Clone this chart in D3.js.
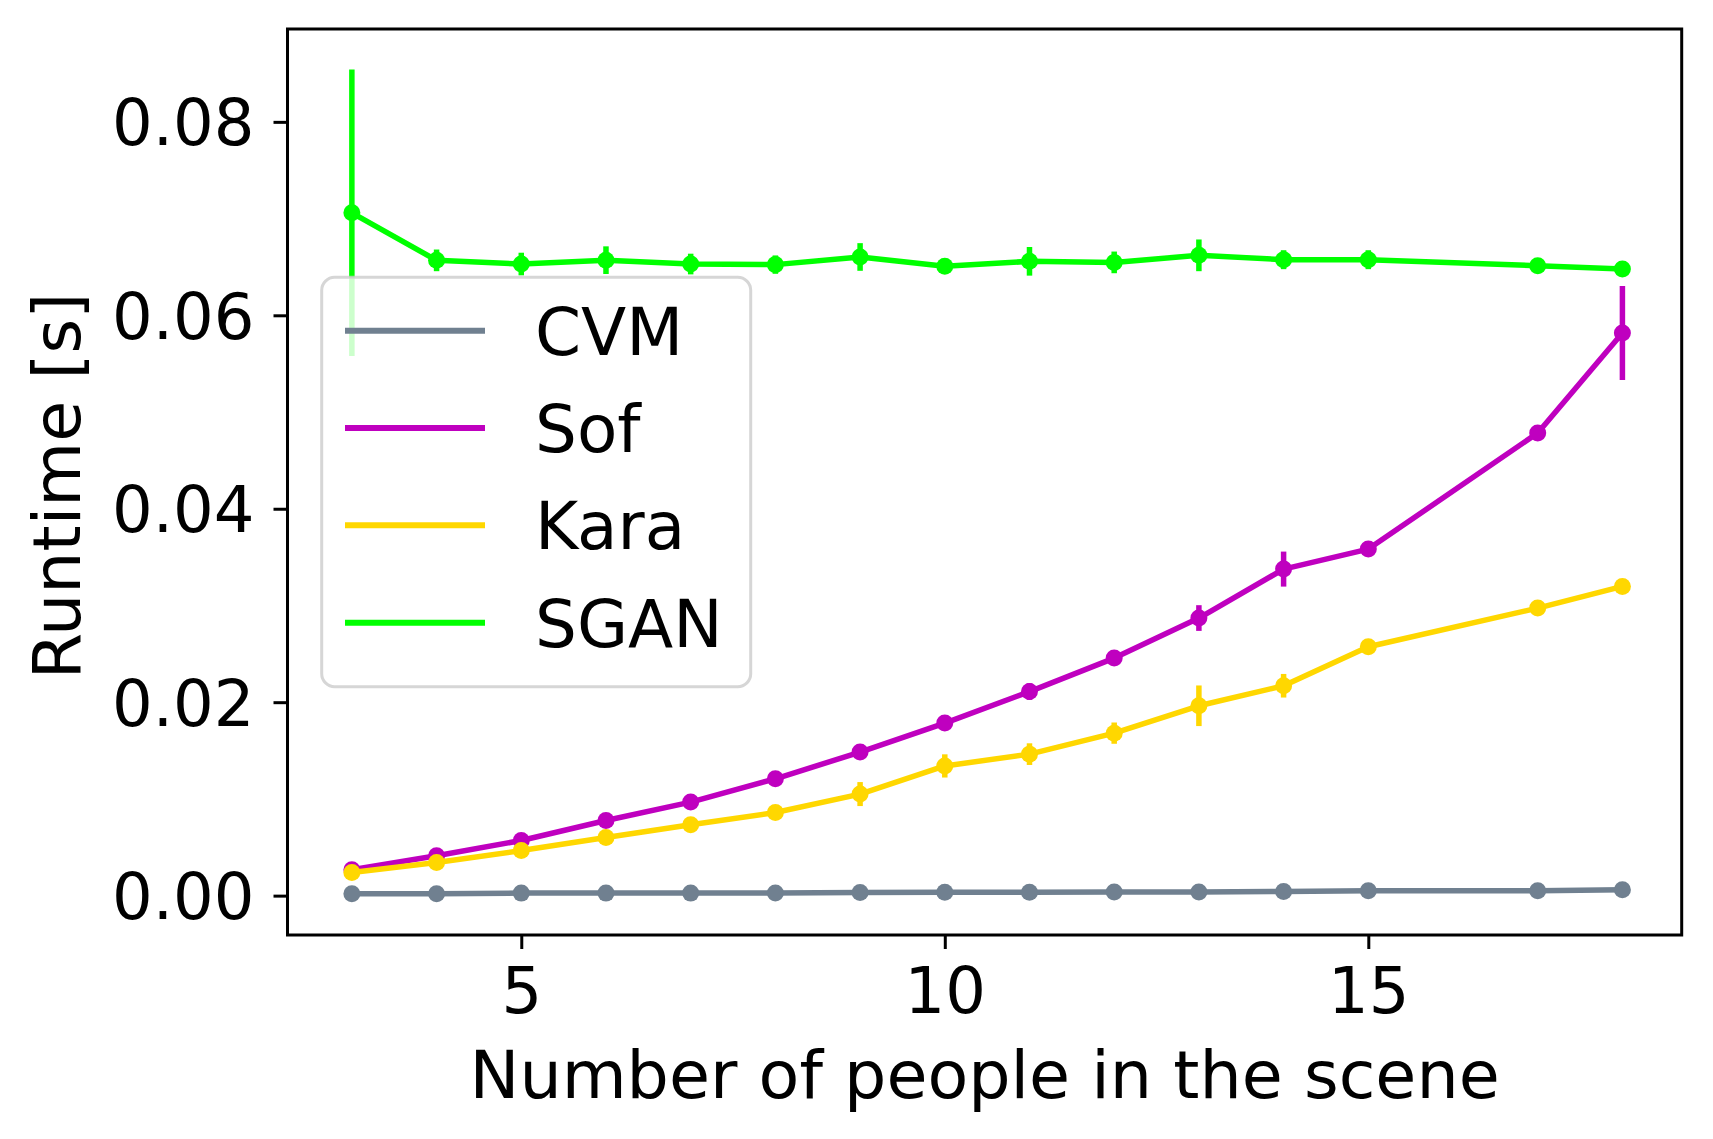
<!DOCTYPE html>
<html>
<head>
<meta charset="utf-8">
<script src="https://cdn.jsdelivr.net/npm/d3@7"></script>
<style>
  html, body { margin: 0; padding: 0; background: #fff; }
  svg { display: block; }
  text { font-family: "DejaVu Sans", sans-serif; fill: #000; }
</style>
</head>
<body>
<div id="chart"></div>
<script>
// ---- data ----
const people = [3, 4, 5, 6, 7, 8, 9, 10, 11, 12, 13, 14, 15, 17, 18];

const cvmMean = [0.00019, 0.00019, 0.00026, 0.00026, 0.00026, 0.00027, 0.00032, 0.00034, 0.00036, 0.00037, 0.00038, 0.00043, 0.00050, 0.00050, 0.00060];
const cvmErr  = [0.0001, 0.0001, 0.0001, 0.0001, 0.0001, 0.0001, 0.0001, 0.0001, 0.0001, 0.0001, 0.0001, 0.0001, 0.0001, 0.0001, 0.0001];

const sofMean = [0.00267, 0.00412, 0.00570, 0.00777, 0.00967, 0.01208, 0.01484, 0.01784, 0.02110, 0.02456, 0.02870, 0.03376, 0.03583, 0.04783, 0.05817];
const sofErr  = [0.0003, 0.0003, 0.0003, 0.0004, 0.0004, 0.0004, 0.0005, 0.0005, 0.00086, 0.0005, 0.00133, 0.00181, 0.0005, 0.0005, 0.00486];

const karaMean = [0.00239, 0.00342, 0.00466, 0.00601, 0.00732, 0.00859, 0.01050, 0.01341, 0.01463, 0.01680, 0.01963, 0.02170, 0.02573, 0.02973, 0.03197];
const karaErr  = [0.0003, 0.0003, 0.0003, 0.0004, 0.0004, 0.0004, 0.00124, 0.0012, 0.00112, 0.0011, 0.0021, 0.00122, 0.0005, 0.0005, 0.0004];

const sganMean = [0.07060, 0.06568, 0.06530, 0.06570, 0.06530, 0.06524, 0.06603, 0.06506, 0.06558, 0.06547, 0.06620, 0.06575, 0.06575, 0.06513, 0.06478];
const sganErr  = [0.0148, 0.00112, 0.00117, 0.00143, 0.00107, 0.00095, 0.00143, 0.0006, 0.00148, 0.00112, 0.00164, 0.00098, 0.00098, 0.0006, 0.0005];

const seriesNames  = ["CVM", "Sof", "Kara", "SGAN"];
const seriesColors = ["#708090", "#bf00bf", "#ffd700", "#00ff00"];
const seriesMeans  = [cvmMean, sofMean, karaMean, sganMean];
const seriesErrs   = [cvmErr, sofErr, karaErr, sganErr];

const xTicks = [5, 10, 15];
const yTicks = [0, 0.02, 0.04, 0.06, 0.08];
const xLabel = "Number of people in the scene";
const yLabel = "Runtime [s]";

// ---- layout ----
const W = 1713, H = 1139;
const L = 287.5, R = 1681.7, T = 29, B = 935;

const svg = d3.select("#chart").append("svg").attr("width", W).attr("height", H);

const x = d3.scaleLinear().domain([2.24, 18.70]).range([L, R]);
const y = d3.scaleLinear().domain([-0.00407, 0.0896]).range([B, T]);

// axes
const gx = svg.append("g").attr("transform", `translate(0,${B})`)
  .call(d3.axisBottom(x).tickValues(xTicks).tickFormat(d3.format("d")).tickSize(14).tickPadding(19));
const gy = svg.append("g").attr("transform", `translate(${L},0)`)
  .call(d3.axisLeft(y).tickValues(yTicks).tickFormat(d3.format(".2f")).tickSize(14).tickPadding(19));
[gx, gy].forEach(g => {
  g.select(".domain").remove();
  g.selectAll(".tick line").attr("stroke", "#000").attr("stroke-width", 3);
  g.selectAll(".tick text").attr("font-size", 64).attr("font-family", "DejaVu Sans").attr("fill", "#000");
});
gy.selectAll(".tick text").attr("dy", "0.36em");

// series
const line = d3.line().x(d => x(d.x)).y(d => y(d.m));
seriesNames.forEach((name, i) => {
  const data = people.map((p, j) => ({ x: p, m: seriesMeans[i][j], e: seriesErrs[i][j] }));
  const g = svg.append("g");
  g.append("path").datum(data)
    .attr("d", line).attr("fill", "none")
    .attr("stroke", seriesColors[i]).attr("stroke-width", 5.5).attr("stroke-linejoin", "round");
  g.selectAll("line.err").data(data).join("line").attr("class", "err")
    .attr("x1", d => x(d.x)).attr("x2", d => x(d.x))
    .attr("y1", d => y(d.m - d.e)).attr("y2", d => y(d.m + d.e))
    .attr("stroke", seriesColors[i]).attr("stroke-width", 5.5);
  g.selectAll("circle").data(data).join("circle")
    .attr("cx", d => x(d.x)).attr("cy", d => y(d.m)).attr("r", 8.5)
    .attr("fill", seriesColors[i]);
});

// frame
svg.append("rect").attr("x", L).attr("y", T).attr("width", R - L).attr("height", B - T)
  .attr("fill", "none").attr("stroke", "#000").attr("stroke-width", 3);

// legend
const lg = svg.append("g");
lg.append("rect").attr("x", 321.7).attr("y", 277.3).attr("width", 429).attr("height", 409.4)
  .attr("rx", 13).attr("ry", 13)
  .attr("fill", "#fff").attr("fill-opacity", 0.8)
  .attr("stroke", "#cccccc").attr("stroke-opacity", 0.8).attr("stroke-width", 3);
const legY = d3.scaleLinear().domain([0, 3]).range([330.7, 622.7]);
seriesNames.forEach((name, i) => {
  lg.append("line").attr("x1", 345).attr("x2", 485).attr("y1", legY(i)).attr("y2", legY(i))
    .attr("stroke", seriesColors[i]).attr("stroke-width", 6);
  lg.append("text").attr("x", 535).attr("y", legY(i) + 24).attr("font-size", 66).text(name);
});

// axis labels
svg.append("text").attr("x", (L + R) / 2).attr("y", 1098).attr("text-anchor", "middle")
  .attr("font-size", 66.7).text(xLabel);
svg.append("text").attr("transform", `translate(80,486) rotate(-90)`).attr("text-anchor", "middle")
  .attr("font-size", 66.7).text(yLabel);
</script>
</body>
</html>
